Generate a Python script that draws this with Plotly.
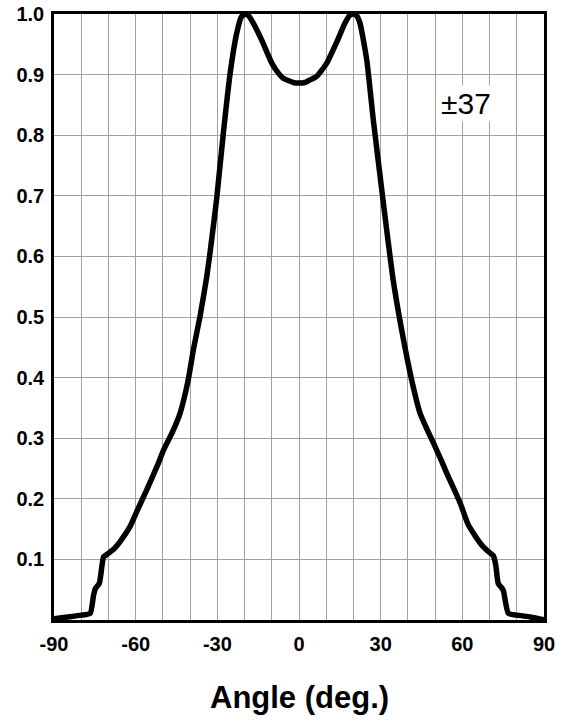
import plotly.graph_objects as go

angle = [-90, -85, -80, -76.7, -75.5, -74.8, -73.4, -72.8, -71.8, -70.6, -68, -65.8,
         -62.1, -59.6, -55.9, -52, -49.8, -46.5, -43.7, -40.7, -38.8, -36.4, -33.9,
         -32.1, -30.2, -27.8, -25.3, -22.9, -21.2, -19.8, -18.5, -16.8, -13.7, -10,
         -7.5, -5.8, -2.1, 0, 2.1, 4, 6.5, 10.2, 13.9, 16.9, 18.7, 20, 21.2, 22.4,
         24.9, 27.3, 30.4, 32.2, 34.6, 37.7, 41.4, 44.5, 47, 49.3, 52.4, 54.3, 59.2,
         62.2, 66.5, 69, 71.4, 72.3, 73.2, 74.5, 75.1, 76.9, 80, 85, 89.5, 90]
intensity = [0.002, 0.005, 0.008, 0.011, 0.04, 0.052, 0.06, 0.075, 0.104, 0.108, 0.117,
             0.129, 0.154, 0.179, 0.215, 0.255, 0.28, 0.31, 0.341, 0.396, 0.446, 0.5,
             0.566, 0.627, 0.697, 0.803, 0.902, 0.968, 0.995, 1.0, 0.997, 0.985, 0.957,
             0.919, 0.902, 0.894, 0.887, 0.886, 0.887, 0.891, 0.897, 0.919, 0.954,
             0.985, 0.998, 1.0, 0.997, 0.985, 0.924, 0.825, 0.71, 0.644, 0.561, 0.479,
             0.396, 0.341, 0.315, 0.293, 0.262, 0.242, 0.193, 0.157, 0.127, 0.115,
             0.106, 0.09, 0.06, 0.053, 0.048, 0.011, 0.008, 0.005, 0.001, 0.001]

x_grid = list(range(-90, 91, 10))
x_labels = [str(v) if v % 30 == 0 else "" for v in x_grid]
y_ticks = [0.1, 0.2, 0.3, 0.4, 0.5, 0.6, 0.7, 0.8, 0.9, 1.0]
y_labels = ["%.1f" % v for v in y_ticks]
label_text = "±37"
x_title = "Angle (deg.)"

FONT = "Liberation Sans, Arial, sans-serif"

fig = go.Figure()
fig.add_trace(go.Scatter(x=angle, y=intensity, mode="lines",
                         line=dict(color="black", width=5.5, shape="spline", smoothing=0.5),
                         cliponaxis=False, showlegend=False, hoverinfo="skip"))

fig.update_layout(
    width=572, height=721,
    margin=dict(l=54, r=28, t=14, b=101, autoexpand=False),
    paper_bgcolor="white", plot_bgcolor="white",
    font=dict(family=FONT, color="black"),
    xaxis=dict(range=[-90, 90], tickvals=x_grid, ticktext=x_labels,
               showgrid=True, gridcolor="#a0a0a0", gridwidth=1,
               showline=True, linecolor="black", linewidth=2.5, mirror=True,
               ticks="", zeroline=False, automargin=False, ticklabelstandoff=4,
               ticklabeloverflow="allow",
               tickfont=dict(size=20, family=FONT, weight="bold")),
    yaxis=dict(range=[0, 1], tickvals=y_ticks, ticktext=y_labels,
               showgrid=True, gridcolor="#a0a0a0", gridwidth=1,
               showline=True, linecolor="black", linewidth=2.5, mirror=True,
               ticks="", zeroline=False, ticklabelstandoff=3, automargin=False,
               ticklabeloverflow="allow",
               tickfont=dict(size=20, family=FONT, weight="bold")),
    annotations=[
        dict(x=61.4, y=0.853, xref="x", yref="y", text=label_text, showarrow=False,
             font=dict(size=30, family=FONT), bgcolor="white",
             xanchor="center", yanchor="middle"),
        dict(x=0.5, y=-0.1287, xref="paper", yref="paper", text=x_title,
             showarrow=False, font=dict(size=31, family=FONT, weight="bold"),
             xanchor="center", yanchor="middle"),
    ],
)

fig.write_html("out.html", config={"displayModeBar": False},
               post_script="document.body.style.margin='0';")
